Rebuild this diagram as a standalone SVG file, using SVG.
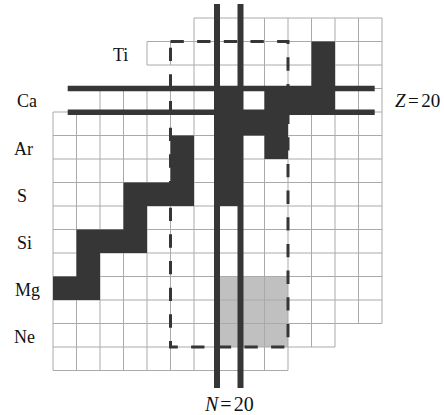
<svg xmlns="http://www.w3.org/2000/svg" width="444" height="415" viewBox="0 0 444 415">
<style>
.grid{stroke:#aaaaaa;stroke-width:1;fill:none}
.dark{fill:#363636}
.gray{fill:#c0c0c0}
.thick{stroke:#363636;fill:none}
.dash{stroke:#363636;stroke-width:3;fill:none;stroke-dasharray:13.33 13.33}
.lbl{font-family:"Liberation Serif","Times New Roman",serif;font-size:18px;fill:#111}
</style>
<rect width="444" height="415" fill="#ffffff"/>
<g id="gray-region">
<rect class="gray" x="217.5" y="276.5" width="70.5" height="70.5"/>
</g>
<g id="grid">
<path class="grid" d="M194 18H382M147 41.5H382M147 65H382M100 88.5H382M53 112H382M53 135.5H382M53 159H382M53 182.5H382M53 206H382M53 229.5H382M53 253H382M53 276.5H382M53 300H382M53 323.5H382M53 347H335M53 370.5H288
M53 112V370.5M76.5 112V370.5M100 88.5V370.5M123.5 88.5V370.5M147 41.5V65M147 88.5V370.5M170.5 41.5V65M170.5 88.5V370.5M194 18V370.5M217.5 18V370.5M241 18V370.5M264.5 18V370.5M288 18V370.5M311.5 18V347M335 18V347M358.5 18V323.5M382 18V323.5"/>
</g>
<g id="dark-cells">
<path class="dark" d="M53 276.5H76.5V229.5H123.5V182.5H170.5V135.5H194V206H147V253H100V300H53Z"/>
<path class="dark" d="M217.5 88.5H241V112H264.5V88.5H311.5V41.5H335V112H288V159H264.5V135.5H241V206H217.5Z"/>
</g>
<g id="connectors">
<path class="dash" d="M170.5 41.5H288V347H170.5Z"/>
<path class="thick" stroke-width="5.5" d="M67.7 88.4H374.7M67.7 112.2H374.7"/>
<path class="thick" stroke-width="6" d="M217 4V388M240.5 4V388"/>
</g>
<g id="labels">
<text class="lbl" x="113" y="61">Ti</text>
<text class="lbl" x="17" y="107">Ca</text>
<text class="lbl" x="14" y="155">Ar</text>
<text class="lbl" x="17" y="202">S</text>
<text class="lbl" x="17" y="249">Si</text>
<text class="lbl" x="15" y="296">Mg</text>
<text class="lbl" x="14" y="343">Ne</text>
<text class="lbl" x="395" y="106.5" style="font-size:19px"><tspan font-style="italic">Z</tspan><tspan dx="2.5">=</tspan><tspan dx="2.5">20</tspan></text>
<text class="lbl" x="205" y="411" style="font-size:20px"><tspan font-style="italic">N</tspan><tspan dx="2">=</tspan><tspan dx="2">20</tspan></text>
</g>
</svg>
